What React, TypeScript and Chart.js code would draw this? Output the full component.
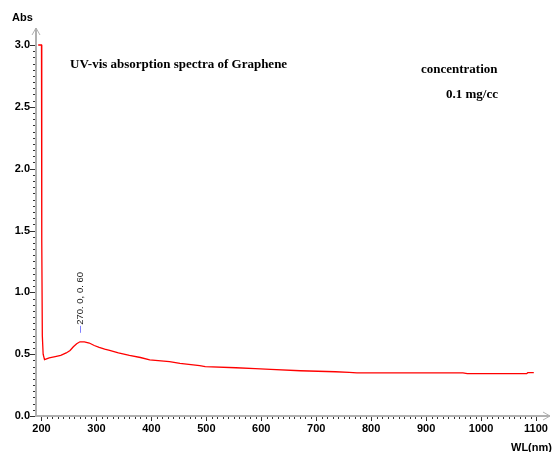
import React, { useEffect, useRef } from 'react';
import { Chart, registerables } from 'chart.js';

Chart.register(...registerables);

const wavelengths = [194, 200, 200.5, 201.5, 203, 205.5, 208, 214, 225, 235, 245, 252, 258, 264, 270, 278, 287, 296, 305, 315, 324, 340, 360, 380, 397, 433, 452, 488, 498, 554, 589, 617, 671, 735, 760, 774, 850, 900, 967, 975, 1083, 1085, 1096];
const absorbance = [3.0, 3.0, 1.42, 0.65, 0.5, 0.456, 0.46, 0.47, 0.48, 0.49, 0.51, 0.53, 0.56, 0.585, 0.6, 0.6, 0.59, 0.57, 0.555, 0.54, 0.53, 0.51, 0.49, 0.473, 0.453, 0.439, 0.426, 0.408, 0.4, 0.39, 0.383, 0.377, 0.366, 0.358, 0.353, 0.348, 0.348, 0.348, 0.348, 0.343, 0.342, 0.35, 0.35];

const xTickValues = [200, 300, 400, 500, 600, 700, 800, 900, 1000, 1100];
const yTickValues = [0, 0.5, 1.0, 1.5, 2.0, 2.5, 3.0];
const yTickLabels = ['0.0', '0.5', '1.0', '1.5', '2.0', '2.5', '3.0'];
const xMinorStep = 10;
const yMinorStep = 0.05;

const peakWavelength = 270;
const peakAbsorbance = 0.6;
const peakLabel = '270. 0, 0. 60';

const chartTitle = 'UV-vis absorption spectra of Graphene';
const noteLines = ['concentration', '0.1 mg/cc'];
const xAxisTitle = 'WL(nm)';
const yAxisTitle = 'Abs';

const AXIS_GRAY = '#b0b0b0';
const TICK_DARK = '#303030';

const axesPlugin = {
  id: 'spectroAxes',
  beforeDatasetsDraw(chart: any) {
    const { ctx, chartArea, scales } = chart;
    const xs = scales.x;
    const ys = scales.y;
    const ax = chartArea.left;
    const ay = chartArea.bottom;
    ctx.save();
    ctx.strokeStyle = AXIS_GRAY;
    ctx.lineWidth = 2;
    ctx.beginPath();
    ctx.moveTo(ax, ay + 1);
    ctx.lineTo(ax, chartArea.top - 17);
    ctx.moveTo(ax - 1, ay);
    ctx.lineTo(chartArea.right + 14, ay);
    ctx.stroke();
    ctx.lineWidth = 1;
    ctx.beginPath();
    const ty = chartArea.top - 17;
    ctx.moveTo(ax - 4, ty + 7);
    ctx.lineTo(ax, ty);
    ctx.lineTo(ax + 4, ty + 7);
    const tx = chartArea.right + 14;
    ctx.moveTo(tx - 7, ay - 4);
    ctx.lineTo(tx, ay);
    ctx.lineTo(tx - 7, ay + 4);
    ctx.stroke();

    ctx.strokeStyle = TICK_DARK;
    ctx.lineWidth = 1;
    ctx.beginPath();
    const yMax = ys.max;
    for (let i = 0; i * yMinorStep <= yMax + 1e-9; i++) {
      const v = i * yMinorStep;
      const py = Math.round(ys.getPixelForValue(v)) + 0.5;
      const major = i % 10 === 0;
      ctx.moveTo(ax - 1, py);
      ctx.lineTo(major ? ax - 6 : ax - 3, py);
    }
    const xStart = xTickValues[0];
    const xEnd = xTickValues[xTickValues.length - 1];
    for (let i = 0; xStart + i * xMinorStep <= xEnd + 1e-9; i++) {
      const v = xStart + i * xMinorStep;
      const px = Math.round(xs.getPixelForValue(v)) + 0.5;
      const major = i % 10 === 0;
      ctx.moveTo(px, ay + 1);
      ctx.lineTo(px, major ? ay + 5 : ay + 3);
    }
    ctx.stroke();

    ctx.fillStyle = '#000';
    ctx.font = 'bold 11px "Liberation Sans", Arial, sans-serif';
    ctx.textAlign = 'right';
    ctx.textBaseline = 'middle';
    yTickValues.forEach((v, i) => {
      ctx.fillText(yTickLabels[i], ax - 6, ys.getPixelForValue(v));
    });
    ctx.textAlign = 'center';
    ctx.textBaseline = 'top';
    xTickValues.forEach((v) => {
      ctx.fillText(String(v), xs.getPixelForValue(v), ay + 7);
    });
    ctx.textAlign = 'left';
    ctx.textBaseline = 'middle';
    ctx.fillText(yAxisTitle, 12, 18);
    ctx.fillText(xAxisTitle, 511, 448);
    ctx.restore();
  },
  afterDraw(chart: any) {
    const { ctx, scales } = chart;
    const xs = scales.x;
    const ys = scales.y;
    ctx.save();
    ctx.fillStyle = '#000';
    ctx.font = 'bold 13px "Liberation Serif", "Times New Roman", serif';
    ctx.textAlign = 'left';
    ctx.textBaseline = 'middle';
    ctx.fillText(chartTitle, 70, 65);
    ctx.fillText(noteLines[0], 421, 70);
    ctx.fillText(noteLines[1], 446, 95);
    const px = Math.round(xs.getPixelForValue(peakWavelength)) + 0.5;
    const py = ys.getPixelForValue(peakAbsorbance);
    ctx.strokeStyle = '#8080ff';
    ctx.lineWidth = 1;
    ctx.beginPath();
    ctx.moveTo(px, py - 9);
    ctx.lineTo(px, py - 16);
    ctx.stroke();
    ctx.translate(px, py - 17);
    ctx.rotate(-Math.PI / 2);
    ctx.fillStyle = '#202020';
    ctx.font = '9.5px "Liberation Sans", Arial, sans-serif';
    ctx.textAlign = 'left';
    ctx.textBaseline = 'middle';
    ctx.fillText(peakLabel, 0, 0);
    ctx.restore();
  },
};

export default function App() {
  const canvasRef = useRef<HTMLCanvasElement | null>(null);

  useEffect(() => {
    if (!canvasRef.current) return;
    const chart = new Chart(canvasRef.current, {
      type: 'line',
      data: {
        datasets: [
          {
            data: wavelengths.map((w, i) => ({ x: w, y: absorbance[i] })),
            borderColor: '#ff0000',
            borderWidth: 1.3,
            pointRadius: 0,
            tension: 0,
            fill: false,
            clip: 4,
          },
        ],
      },
      options: {
        animation: false,
        responsive: false,
        devicePixelRatio: 1,
        layout: { padding: { left: 36, right: 17, top: 45, bottom: 36 } },
        plugins: { legend: { display: false }, tooltip: { enabled: false }, title: { display: false } },
        scales: {
          x: { type: 'linear', min: 190, max: 1100, display: false },
          y: { type: 'linear', min: 0, max: 3.0, display: false },
        },
      },
      plugins: [axesPlugin],
    });
    return () => chart.destroy();
  }, []);

  return (
    <div style={{ position: 'absolute', left: 0, top: 0, width: 553, height: 452, background: '#fff' }}>
      <canvas ref={canvasRef} width={553} height={452} style={{ width: 553, height: 452 }} />
    </div>
  );
}
